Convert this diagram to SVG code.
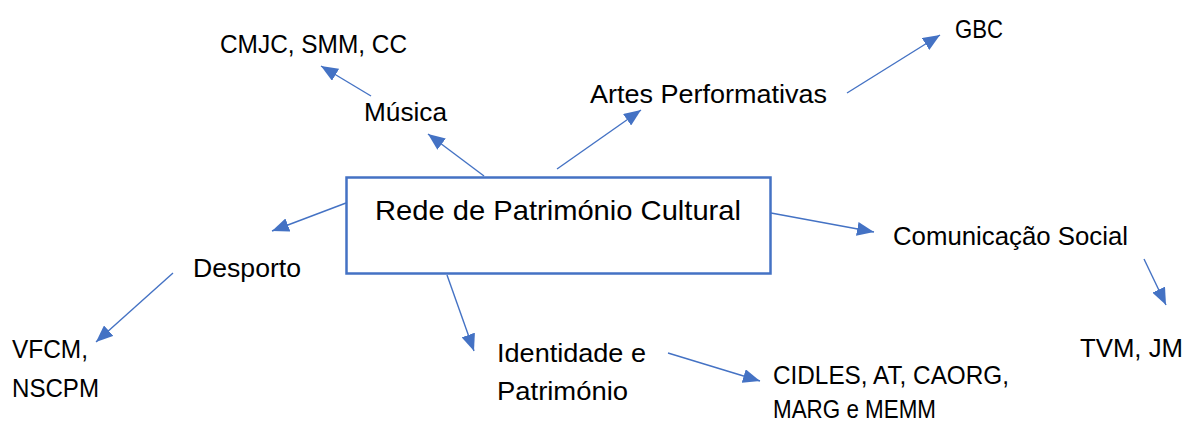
<svg xmlns="http://www.w3.org/2000/svg" width="1185" height="423" viewBox="0 0 1185 423">
<style>
text{font-family:"Liberation Sans",Arial,sans-serif;font-size:25px;fill:#000}
.main{font-size:28.5px}
.conn line{stroke:#4472C4;stroke-width:1.4;fill:none}
</style>
<defs>
<marker id="ah" viewBox="0 0 17 14" markerWidth="17" markerHeight="14" refX="17" refY="7" orient="auto" markerUnits="userSpaceOnUse">
<path d="M0,0 L17,7 L0,14 Z" fill="#4472C4"/>
</marker>
</defs>
<rect width="1185" height="423" fill="#fff"/>
<g id="connectors" class="conn">
<line x1="484" y1="176" x2="428" y2="134" marker-end="url(#ah)"/>
<line x1="371" y1="96" x2="321" y2="66" marker-end="url(#ah)"/>
<line x1="557" y1="169" x2="641" y2="110" marker-end="url(#ah)"/>
<line x1="847" y1="93" x2="940" y2="35" marker-end="url(#ah)"/>
<line x1="346" y1="203" x2="272" y2="231" marker-end="url(#ah)"/>
<line x1="173" y1="273" x2="96" y2="342" marker-end="url(#ah)"/>
<line x1="447" y1="275" x2="474" y2="351" marker-end="url(#ah)"/>
<line x1="668" y1="353" x2="760" y2="381" marker-end="url(#ah)"/>
<line x1="771" y1="213" x2="874" y2="232" marker-end="url(#ah)"/>
<line x1="1144" y1="259" x2="1166" y2="305" marker-end="url(#ah)"/>
</g>
<g id="rede">
<rect x="346.5" y="177.5" width="424" height="96" fill="#fff" stroke="#4472C4" stroke-width="2.5"/>
<text class="main" x="375" y="220" textLength="366" lengthAdjust="spacingAndGlyphs">Rede de Património Cultural</text>
</g>
<g id="musica"><text x="364" y="121" textLength="83" lengthAdjust="spacingAndGlyphs">Música</text></g>
<g id="cmjc"><text x="220" y="53" textLength="187" lengthAdjust="spacingAndGlyphs">CMJC, SMM, CC</text></g>
<g id="artes"><text x="590" y="103" textLength="237" lengthAdjust="spacingAndGlyphs">Artes Performativas</text></g>
<g id="gbc"><text x="955" y="38" textLength="48" lengthAdjust="spacingAndGlyphs">GBC</text></g>
<g id="comunicacao"><text x="893" y="245" textLength="235" lengthAdjust="spacingAndGlyphs">Comunicação Social</text></g>
<g id="tvm"><text x="1080" y="357" textLength="103" lengthAdjust="spacingAndGlyphs">TVM, JM</text></g>
<g id="desporto"><text x="193" y="277" textLength="108" lengthAdjust="spacingAndGlyphs">Desporto</text></g>
<g id="vfcm">
<text x="12" y="358" textLength="76" lengthAdjust="spacingAndGlyphs">VFCM,</text>
<text x="12" y="397" textLength="87" lengthAdjust="spacingAndGlyphs">NSCPM</text>
</g>
<g id="identidade">
<text x="497" y="362" textLength="149" lengthAdjust="spacingAndGlyphs">Identidade e</text>
<text x="497" y="400" textLength="131" lengthAdjust="spacingAndGlyphs">Património</text>
</g>
<g id="cidles">
<text x="773" y="384" textLength="236" lengthAdjust="spacingAndGlyphs">CIDLES, AT, CAORG,</text>
<text x="773" y="418" textLength="163" lengthAdjust="spacingAndGlyphs">MARG e MEMM</text>
</g>
</svg>
